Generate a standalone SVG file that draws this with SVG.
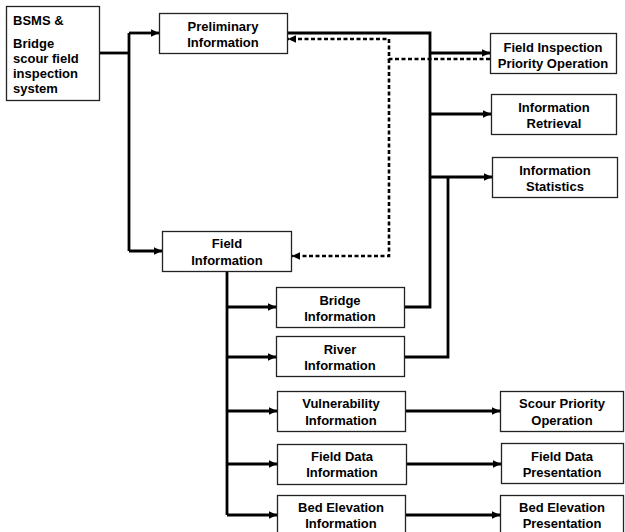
<svg xmlns="http://www.w3.org/2000/svg" width="625" height="532" viewBox="0 0 625 532">
<style>
.box{fill:#fff;stroke:#222;stroke-width:1.3}
text{font-family:"Liberation Sans",Arial,sans-serif;font-weight:bold;font-size:13px;fill:#000}
.c{text-anchor:middle}
.ln{fill:none;stroke:#000;stroke-width:2.8}
.ds{fill:none;stroke:#000;stroke-width:2.6;stroke-dasharray:4 2.5}
</style>
<defs>
<marker id="ah" markerUnits="userSpaceOnUse" markerWidth="9" markerHeight="9" refX="8" refY="4.5" orient="auto">
<path d="M0,0.8 L8,4.5 L0,8.2 z" fill="#000"/>
</marker>
</defs>
<rect width="625" height="532" fill="#fff"/>
<g id="connectors">
<path class="ln" d="M99,53 H129"/>
<path class="ln" d="M129,33 V251"/>
<path class="ln" d="M129,33 H159" marker-end="url(#ah)"/>
<path class="ln" d="M129,251 H162" marker-end="url(#ah)"/>
<path class="ln" d="M287,33 H430 V307 H404"/>
<path class="ln" d="M430,53 H490" marker-end="url(#ah)"/>
<path class="ln" d="M430,114 H491" marker-end="url(#ah)"/>
<path class="ln" d="M430,177 H492" marker-end="url(#ah)"/>
<path class="ln" d="M404,357 H448 V177"/>
<path class="ds" d="M490,59 H389 V39 H288" marker-end="url(#ah)"/>
<path class="ds" d="M389,59 V256 H292" marker-end="url(#ah)"/>
<path class="ln" d="M227,271 V515"/>
<path class="ln" d="M227,307 H276" marker-end="url(#ah)"/>
<path class="ln" d="M227,357 H276" marker-end="url(#ah)"/>
<path class="ln" d="M227,411 H277" marker-end="url(#ah)"/>
<path class="ln" d="M227,464 H277" marker-end="url(#ah)"/>
<path class="ln" d="M227,515 H277" marker-end="url(#ah)"/>
<path class="ln" d="M405,411 H500" marker-end="url(#ah)"/>
<path class="ln" d="M406,464 H501" marker-end="url(#ah)"/>
<path class="ln" d="M405,515 H500" marker-end="url(#ah)"/>
</g>
<g id="bsms">
<rect class="box" x="6.5" y="6.5" width="93" height="94"/>
<text x="13" y="25">BSMS &amp;</text>
<text x="13" y="48">Bridge</text>
<text x="13" y="63">scour field</text>
<text x="13" y="78">inspection</text>
<text x="13" y="93">system</text>
</g>
<g id="preliminary">
<rect class="box" x="159.5" y="13.5" width="128" height="40"/>
<text class="c" x="223" y="31">Preliminary</text>
<text class="c" x="223" y="46.5">Information</text>
</g>
<g id="field-inspection">
<rect class="box" x="490.5" y="33.5" width="126" height="40"/>
<text class="c" x="553" y="51.5">Field Inspection</text>
<text class="c" x="553" y="67.5">Priority Operation</text>
</g>
<g id="info-retrieval">
<rect class="box" x="491.5" y="94.5" width="125" height="40"/>
<text class="c" x="554" y="112">Information</text>
<text class="c" x="554" y="128">Retrieval</text>
</g>
<g id="info-statistics">
<rect class="box" x="492.5" y="157.5" width="125" height="40"/>
<text class="c" x="555" y="175">Information</text>
<text class="c" x="555" y="191">Statistics</text>
</g>
<g id="field-info">
<rect class="box" x="162.5" y="231.5" width="129" height="40"/>
<text class="c" x="227" y="248">Field</text>
<text class="c" x="227" y="264.5">Information</text>
</g>
<g id="bridge-info">
<rect class="box" x="276.5" y="287.5" width="128" height="40"/>
<text class="c" x="340" y="304.5">Bridge</text>
<text class="c" x="340" y="320.5">Information</text>
</g>
<g id="river-info">
<rect class="box" x="276.5" y="336.5" width="128" height="40"/>
<text class="c" x="340" y="354">River</text>
<text class="c" x="340" y="369.5">Information</text>
</g>
<g id="vulnerability">
<rect class="box" x="277.5" y="391.5" width="128" height="40"/>
<text class="c" x="341" y="408">Vulnerability</text>
<text class="c" x="341" y="424.5">Information</text>
</g>
<g id="field-data-info">
<rect class="box" x="277.5" y="444.5" width="129" height="40"/>
<text class="c" x="342" y="461">Field Data</text>
<text class="c" x="342" y="477">Information</text>
</g>
<g id="bed-elev-info">
<rect class="box" x="277.5" y="495.5" width="128" height="40"/>
<text class="c" x="341" y="512">Bed Elevation</text>
<text class="c" x="341" y="528">Information</text>
</g>
<g id="scour-priority">
<rect class="box" x="500.5" y="391.5" width="123" height="40"/>
<text class="c" x="562" y="408">Scour Priority</text>
<text class="c" x="562" y="424.5">Operation</text>
</g>
<g id="field-data-pres">
<rect class="box" x="501.5" y="443.5" width="122" height="40"/>
<text class="c" x="562" y="461">Field Data</text>
<text class="c" x="562" y="477">Presentation</text>
</g>
<g id="bed-elev-pres">
<rect class="box" x="500.5" y="495.5" width="123" height="40"/>
<text class="c" x="562" y="512">Bed Elevation</text>
<text class="c" x="562" y="528">Presentation</text>
</g>
</svg>
